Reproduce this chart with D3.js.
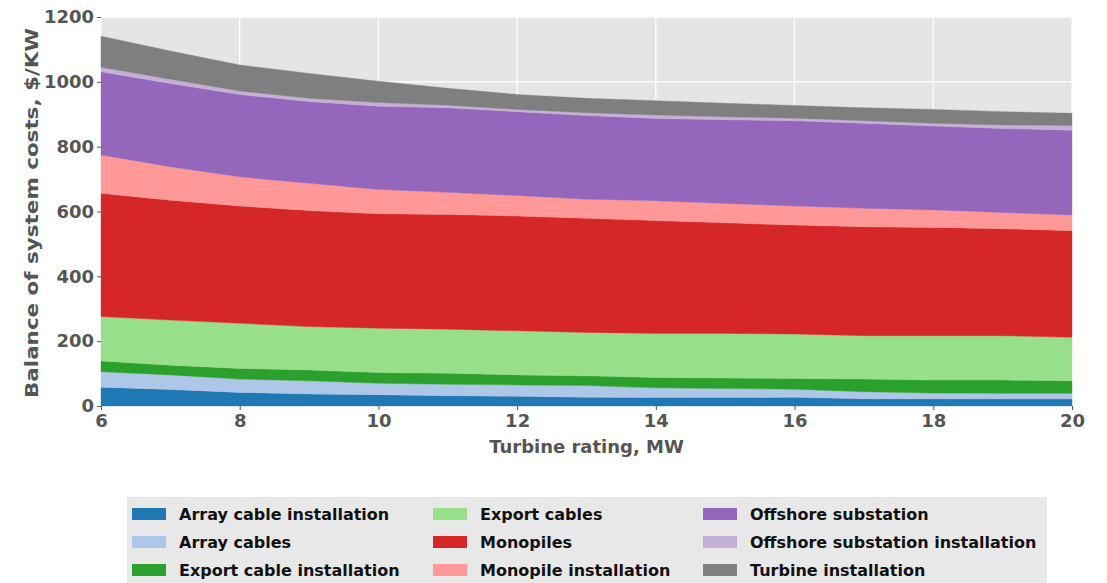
<!DOCTYPE html>
<html>
<head>
<meta charset="utf-8">
<script src="https://cdn.jsdelivr.net/npm/d3@7"></script>
<style>
  html, body { margin: 0; padding: 0; background: #ffffff; }
  svg { display: block; }
  text { font-family: "DejaVu Sans", sans-serif; font-weight: bold; }
</style>
</head>
<body>
<svg id="chart" width="1107" height="583"></svg>
<script>
// Turbine ratings (MW)
const ratings = [6, 7, 8, 9, 10, 11, 12, 13, 14, 15, 16, 17, 18, 19, 20];

// Cost components, $/kW, stacked bottom to top
const arrayCableInstallation   = [58, 51, 42, 37, 35, 32, 30, 27, 26, 26, 27, 22, 22, 22, 22];
const arrayCables              = [48, 45, 41, 41, 35, 35, 35, 36, 30, 28, 25, 22, 18, 17, 17];
const exportCableInstallation  = [33, 30, 33, 33, 33, 34, 31, 30, 32, 32, 33, 39, 40, 41, 39];
const exportCables             = [137, 139, 139, 134, 137, 136, 136, 134, 136, 138, 137, 134, 137, 137, 134];
const monopiles                = [380, 370, 362, 358, 353, 354, 354, 352, 348, 341, 336, 336, 334, 330, 329];
const monopileInstallation     = [118, 103, 90, 84, 75, 68, 63, 59, 61, 60, 59, 57, 54, 50, 48];
const offshoreSubstation       = [257, 257, 254, 252, 257, 261, 259, 258, 254, 258, 263, 262, 259, 259, 262];
const offshoreSubstationInst   = [14, 13, 11, 10, 11, 8, 7, 9, 11, 9, 8, 8, 8, 11, 14];
const turbineInstallation      = [96, 87, 80, 77, 66, 52, 46, 44, 44, 42, 39, 40, 43, 41, 38];

const seriesNames = [
  "Array cable installation", "Array cables", "Export cable installation",
  "Export cables", "Monopiles", "Monopile installation",
  "Offshore substation", "Offshore substation installation", "Turbine installation"
];
const seriesValues = [
  arrayCableInstallation, arrayCables, exportCableInstallation,
  exportCables, monopiles, monopileInstallation,
  offshoreSubstation, offshoreSubstationInst, turbineInstallation
];
const seriesColors = [
  "#1f77b4", "#aec7e8", "#2ca02c", "#98df8a", "#d62728",
  "#ff9896", "#9467bd", "#c5b0d5", "#7f7f7f"
];

const xTicks = [6, 8, 10, 12, 14, 16, 18, 20];
const yTicks = [0, 200, 400, 600, 800, 1000, 1200];

// Build row records for the stack layout
const rows = ratings.map((r, i) => {
  const o = { rating: r };
  seriesNames.forEach((n, k) => { o[n] = seriesValues[k][i]; });
  return o;
});

const svg = d3.select("#chart");
const plot = { left: 101, right: 1072, top: 17, bottom: 406 };

const x = d3.scaleLinear().domain([6, 20]).range([plot.left, plot.right]);
const y = d3.scaleLinear().domain([0, 1200]).range([plot.bottom, plot.top]);

// Panel background
svg.append("rect")
  .attr("x", plot.left).attr("y", plot.top)
  .attr("width", plot.right - plot.left).attr("height", plot.bottom - plot.top)
  .attr("fill", "#e5e5e5");

// Grid lines
const grid = svg.append("g");
grid.selectAll("line.v").data(xTicks).join("line")
  .attr("x1", d => x(d)).attr("x2", d => x(d))
  .attr("y1", plot.top).attr("y2", plot.bottom)
  .attr("stroke", "#ffffff").attr("stroke-width", 1.3);
grid.selectAll("line.h").data(yTicks).join("line")
  .attr("x1", plot.left).attr("x2", plot.right)
  .attr("y1", d => y(d)).attr("y2", d => y(d))
  .attr("stroke", "#ffffff").attr("stroke-width", 1.3);

// Stacked areas
const stack = d3.stack().keys(seriesNames);
const layers = stack(rows);
const area = d3.area()
  .x(d => x(d.data.rating))
  .y0(d => y(d[0]))
  .y1(d => y(d[1]));

svg.append("g").selectAll("path").data(layers).join("path")
  .attr("d", area)
  .attr("fill", (d, i) => seriesColors[i])
  .attr("stroke", (d, i) => seriesColors[i])
  .attr("stroke-width", 0.4);

// Axes
const xAxis = svg.append("g")
  .attr("transform", `translate(0,${plot.bottom})`)
  .call(d3.axisBottom(x).tickValues(xTicks).tickSize(4).tickPadding(4).tickFormat(d3.format("d")));
const yAxis = svg.append("g")
  .attr("transform", `translate(${plot.left},0)`)
  .call(d3.axisLeft(y).tickValues(yTicks).tickSize(4).tickPadding(3).tickFormat(d3.format("d")));

[xAxis, yAxis].forEach(a => {
  a.select(".domain").remove();
  a.selectAll(".tick line").attr("stroke", "#555555");
  a.selectAll(".tick text")
    .attr("fill", "#555555")
    .style("font-size", "18px")
    .style("font-family", "DejaVu Sans")
    .style("font-weight", "bold");
});

// Axis titles
svg.append("text")
  .attr("x", (plot.left + plot.right) / 2)
  .attr("y", 453)
  .attr("text-anchor", "middle")
  .attr("fill", "#555555")
  .style("font-size", "18px")
  .text("Turbine rating, MW");

svg.append("text")
  .attr("transform", `translate(38,${(17 + 397) / 2 + 6}) rotate(-90)`)
  .attr("text-anchor", "middle")
  .attr("fill", "#555555")
  .style("font-size", "17px")
  .attr("textLength", 370)
  .attr("lengthAdjust", "spacingAndGlyphs")
  .text("Balance of system costs, $/KW");

// Legend
const legend = svg.append("g");
legend.append("rect")
  .attr("x", 127).attr("y", 497)
  .attr("width", 920).attr("height", 100)
  .attr("fill", "#e8e8e8");

const colX = [132, 433, 703];
const rowY = [514, 542, 570];
seriesNames.forEach((name, i) => {
  const col = Math.floor(i / 3), row = i % 3;
  const g = legend.append("g");
  g.append("rect")
    .attr("x", colX[col]).attr("y", rowY[row] - 6)
    .attr("width", 34).attr("height", 12)
    .attr("fill", seriesColors[i]);
  g.append("text")
    .attr("x", colX[col] + 47).attr("y", rowY[row])
    .attr("dy", "0.35em")
    .attr("fill", "#111111")
    .style("font-size", "16px")
    .text(name);
});
</script>
</body>
</html>
